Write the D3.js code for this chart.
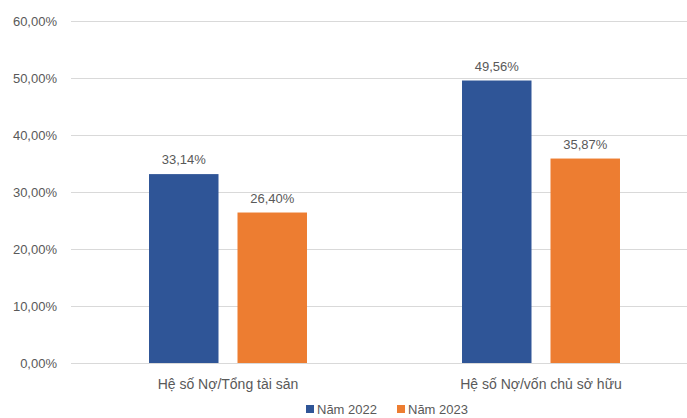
<!DOCTYPE html>
<html><head><meta charset="utf-8">
<script src="https://cdn.jsdelivr.net/npm/d3@7"></script>
<style>body{margin:0;background:#fff}svg{display:block}text{font-family:"Liberation Sans",Arial,sans-serif;fill:#595959}</style>
</head><body><svg id="c" width="687" height="418"></svg>
<script>
const categories = ["Hệ số Nợ/Tổng tài sản", "Hệ số Nợ/vốn chủ sở hữu"];
const seriesNames = ["Năm 2022", "Năm 2023"];
const values2022 = [33.14, 49.56];
const values2023 = [26.40, 35.87];
const yTicks = [0, 10, 20, 30, 40, 50, 60];
const colors = ["#2F5597", "#ED7D31"];

const svg = d3.select("#c");
const fmt = v => v.toFixed(2).replace(".", ",") + "%";
const y = d3.scaleLinear().domain([0, 60]).range([363, 21]);
const x0 = d3.scaleBand().domain(categories).range([71.5, 697.5]);
const x1 = d3.scaleBand().domain(seriesNames).range([0, x0.bandwidth()]).paddingInner(0.2147).paddingOuter(0.876);

// gridlines
svg.append("g").selectAll("line").data(yTicks).join("line")
  .attr("x1", 71).attr("x2", 687)
  .attr("y1", d => Math.round(y(d)) + 0.5).attr("y2", d => Math.round(y(d)) + 0.5)
  .attr("stroke", "#d9d9d9").attr("stroke-width", 1);

// y axis labels
const yAxis = d3.axisLeft(y).tickValues(yTicks).tickSize(0).tickPadding(0).tickFormat(fmt);
const ya = svg.append("g").attr("transform", "translate(57,0)").call(yAxis);
ya.select(".domain").remove();
ya.selectAll("text").attr("font-size", 13).attr("fill", "#595959").style("font-family", "Liberation Sans, Arial, sans-serif");

const data = categories.map((c, i) => ({ cat: c, vals: [values2022[i], values2023[i]] }));
const groups = svg.append("g").selectAll("g").data(data).join("g")
  .attr("transform", d => `translate(${x0(d.cat)},0)`);
groups.selectAll("rect").data(d => d.vals.map((v, j) => ({ s: seriesNames[j], v, j }))).join("rect")
  .attr("x", d => x1(d.s)).attr("width", x1.bandwidth())
  .attr("y", d => y(d.v)).attr("height", d => y(0) - y(d.v))
  .attr("fill", d => colors[d.j]);
groups.selectAll("text.v").data(d => d.vals.map((v, j) => ({ s: seriesNames[j], v, j }))).join("text")
  .attr("class", "v")
  .attr("x", d => x1(d.s) + x1.bandwidth() / 2).attr("y", d => y(d.v) - 10)
  .attr("text-anchor", "middle").attr("font-size", 13).text(d => fmt(d.v));

// category labels
svg.append("g").selectAll("text").data(categories).join("text")
  .attr("x", d => x0(d) + x0.bandwidth() / 2).attr("y", 389)
  .attr("text-anchor", "middle").attr("font-size", 14).text(d => d);

// legend
const leg = svg.append("g").selectAll("g").data(seriesNames).join("g")
  .attr("transform", (d, i) => `translate(${306 + i * 91},0)`);
leg.append("rect").attr("x", 0).attr("y", 405).attr("width", 8).attr("height", 8).attr("fill", (d, i) => colors[i]);
leg.append("text").attr("x", 11).attr("y", 414).attr("font-size", 13).text(d => d);
</script></body></html>
